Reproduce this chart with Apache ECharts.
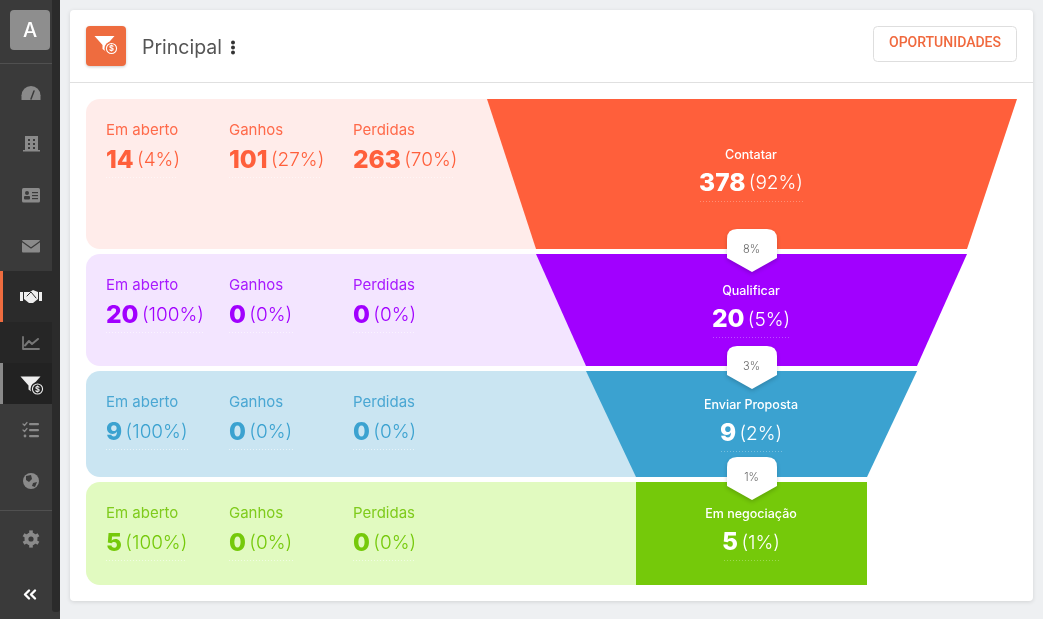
<!DOCTYPE html>
<html><head><meta charset="utf-8">
<style>html,body{margin:0;padding:0;background:#eef0f2;overflow:hidden}#c{width:1043px;height:619px}</style>
<script src="https://cdn.jsdelivr.net/npm/echarts@6/dist/echarts.min.js"></script>
</head><body><div id="c"></div>
<script>
// ---- data ----
const categories = ['Contatar', 'Qualificar', 'Enviar Proposta', 'Em negociação'];
const totals = [378, 20, 9, 5];
const totalPct = [92, 5, 2, 1];
const openCounts = [14, 20, 9, 5];
const openPct = [4, 100, 100, 100];
const wonCounts = [101, 0, 0, 0];
const wonPct = [27, 0, 0, 0];
const lostCounts = [263, 0, 0, 0];
const lostPct = [70, 0, 0, 0];
const conversionPct = [8, 3, 1];
const columnLabels = ['Em aberto', 'Ganhos', 'Perdidas'];

// ---- styles & layout ----
const FONT = 'Inter, "Noto Sans", sans-serif';
const fills = ['#ff5f3b', '#a100ff', '#3ba2d0', '#75c90a'];
const tints = ['#ffecea', '#f3e5ff', '#cae5f2', '#e1fac0'];
const labelCols = ['#ff6a4a', '#a81aff', '#4aa7d3', '#7fcb1c'];
const rows = [
  {top: 99,  bot: 249, l1: 487, r1: 1017, l2: 536, r2: 967, lab: 130, num: 160.5, clab: 155, cnum: 183.5, dotL: 700, dotR: 803, dotY: 201, sub: 177, subR: [178, 322, 455]},
  {top: 254, bot: 366, l1: 536, r1: 967,  l2: 586, r2: 917, lab: 285, num: 315.5, clab: 291, cnum: 320, dotL: 713, dotR: 790, dotY: 337, sub: 332, subR: [204, 293, 416]},
  {top: 371, bot: 477, l1: 586, r1: 917,  l2: 636, r2: 867, lab: 402, num: 432.5, clab: 405, cnum: 434, dotL: 721, dotR: 782, dotY: 451, sub: 449, subR: [189, 293, 416]},
  {top: 482, bot: 585, l1: 636, r1: 867,  l2: 636, r2: 867, lab: 513, num: 543.5, clab: 514, cnum: 543, dotL: 724, dotR: 779, dotY: 560, sub: 560, subR: [187, 293, 416]}
];
const colX = [106, 229, 353];
const badgeTops = [229, 346, 457];
const CX = 752;

function richText(c) {
  return {
    b: {fontFamily: FONT, fontWeight: 800, fontSize: 24.5, fill: c, color: c, lineHeight: 30},
    s: {fontFamily: FONT, fontWeight: 300, fontSize: 19, fill: c, color: c, lineHeight: 30}
  };
}

function renderStage(params, api) {
  const i = api.value(0);
  const R = rows[i];
  const P = (x, y) => api.coord([x, y]);
  const kids = [];
  // tinted panel
  const a = P(86, R.top), b = P(CX, R.bot);
  kids.push({type: 'rect', shape: {x: a[0], y: a[1], width: b[0] - a[0], height: b[1] - a[1], r: [14, 0, 0, 14]}, style: {fill: tints[i]}});
  // funnel trapezoid
  kids.push({type: 'polygon', shape: {points: [P(R.l1, R.top), P(R.r1, R.top), P(R.r2, R.bot), P(R.l2, R.bot)]}, style: {fill: fills[i]}});
  // columns
  const cnt = [openCounts[i], wonCounts[i], lostCounts[i]];
  const pct = [openPct[i], wonPct[i], lostPct[i]];
  columnLabels.forEach((t, k) => {
    const l = P(colX[k], R.lab), n = P(colX[k], R.num);
    kids.push({type: 'text', style: {text: t, x: l[0], y: l[1], verticalAlign: 'middle', align: 'left', font: '400 15px ' + FONT, fill: labelCols[i]}});
    kids.push({type: 'text', style: {text: '{b|' + cnt[k] + '} {s|(' + pct[k] + '%)}', x: n[0], y: n[1], verticalAlign: 'middle', align: 'left', rich: richText(fills[i])}});
    const u1 = P(colX[k], R.sub), u2 = P(R.subR[k], R.sub);
    kids.push({type: 'line', shape: {x1: u1[0], y1: u1[1] + 0.5, x2: u2[0], y2: u2[1] + 0.5}, style: {stroke: 'rgba(255,255,255,0.55)', lineWidth: 1, lineDash: [1, 2]}});
  });
  // centre labels
  const c1 = P(CX - 1, R.clab), c2 = P(CX - 1, R.cnum);
  kids.push({type: 'text', style: {text: categories[i], x: c1[0], y: c1[1], align: 'center', verticalAlign: 'middle', font: '500 12.5px ' + FONT, fill: '#fff'}});
  kids.push({type: 'text', style: {text: '{b|' + totals[i] + '} {s|(' + totalPct[i] + '%)}', x: c2[0], y: c2[1], align: 'center', verticalAlign: 'middle', rich: richText('#fff')}});
  const d1 = P(R.dotL, R.dotY), d2 = P(R.dotR, R.dotY);
  kids.push({type: 'line', shape: {x1: d1[0], y1: d1[1] + 0.5, x2: d2[0], y2: d2[1] + 0.5}, style: {stroke: 'rgba(255,255,255,0.3)', lineWidth: 1, lineDash: [1, 2]}});
  return {type: 'group', children: kids};
}

function renderBadge(params, api) {
  const i = api.value(0);
  const top = badgeTops[i];
  const P = (x, y) => api.coord([x, y]);
  const L = CX - 25, Rr = CX + 25, r = 10;
  const s = 29, t = 43;
  const p = (x, y) => { const q = P(x, y); return q[0] + ' ' + q[1]; };
  const d = 'M' + p(L, top + r) + ' Q' + p(L, top) + ' ' + p(L + r, top) + ' L' + p(Rr - r, top) + ' Q' + p(Rr, top) + ' ' + p(Rr, top + r) +
            ' L' + p(Rr, top + s) + ' L' + p(CX, top + t) + ' L' + p(L, top + s) + ' Z';
  const tp = P(CX - 0.5, top + 20.5);
  return {type: 'group', children: [
    {type: 'path', shape: {pathData: d}, style: {fill: '#fff', shadowBlur: 4, shadowOffsetY: 2, shadowColor: 'rgba(0,0,0,0.18)'}},
    {type: 'text', style: {text: conversionPct[i] + '%', x: tp[0], y: tp[1], align: 'center', verticalAlign: 'middle', font: '300 11px ' + FONT, fill: '#666'}}
  ]};
}

// ---- page chrome (static graphic elements) ----
const G = '#8a8a8a', SB = '#3a3a3a';
const rect = (x, y, w, h, fill, r) => ({type: 'rect', shape: {x, y, width: w, height: h, r: r || 0}, style: {fill}});
const circ = (cx, cy, r, fill) => ({type: 'circle', shape: {cx, cy, r}, style: {fill}});
const poly = (pts, fill) => ({type: 'polygon', shape: {points: pts}, style: {fill}});
const pl = (pts, stroke, w) => ({type: 'polyline', shape: {points: pts}, style: {stroke, lineWidth: w || 1, fill: 'none', lineCap: 'round', lineJoin: 'round'}});
const txt = (text, x, y, font, fill, align) => ({type: 'text', x, y, style: {text, font, fill, align: align || 'left', verticalAlign: 'middle'}});

function gear(cx, cy, col) {
  const out = [{type: 'ring', shape: {cx, cy, r: 6.5, r0: 2.6}, style: {fill: col}}];
  for (let k = 0; k < 6; k++) {
    out.push({type: 'rect', x: cx, y: cy, rotation: k * Math.PI / 3, shape: {x: -1.8, y: -8.6, width: 3.6, height: 3.6}, style: {fill: col}});
  }
  return out;
}
function funnelIcon(x, y, s, fill, coinFill) {
  return [
    poly([[x, y], [x + 20 * s, y], [x + 12 * s, y + 9 * s], [x + 12 * s, y + 16 * s], [x + 8 * s, y + 13 * s], [x + 8 * s, y + 9 * s]], fill),
    circ(x + 17 * s, y + 12.5 * s, 7 * s, coinFill),
    {type: 'ring', shape: {cx: x + 17 * s, cy: y + 12.5 * s, r: 5.6 * s, r0: 4.5 * s}, style: {fill: fill}},
    txt('$', x + 17 * s, y + 13 * s, '700 ' + (7.5 * s) + 'px ' + FONT, fill, 'center')
  ];
}

const chrome = [
  // sidebar
  rect(0, 0, 60, 619, SB),
  rect(52, 0, 8, 612, '#2b2b2b', [0, 0, 3, 3]),
  rect(0, 271, 52, 51, '#2b2b2b'), rect(0, 271, 3, 51, '#ee6c3f'),
  rect(0, 322, 52, 41, '#262626'),
  rect(0, 363, 52, 41, '#222222'), rect(0, 363, 3, 41, '#8a8a8a'),
  rect(0, 63, 52, 1, '#505050'), rect(0, 510, 52, 1, '#505050'),
  rect(10, 10, 40, 40, '#8e8e8e', 4),
  txt('A', 30, 31, '500 20px ' + FONT, '#fff', 'center'),
  // gauge
  {type: 'sector', shape: {cx: 31, cy: 95.5, r: 9.5, r0: 0, startAngle: Math.PI, endAngle: Math.PI * 2}, style: {fill: G}},
  rect(21.5, 95, 19, 5, G),
  pl([[31, 99], [34, 91]], SB, 1.5),
  // building
  rect(25, 136, 13, 15, G), rect(23, 150, 17, 1.5, G),
  rect(28, 139, 2, 2, SB), rect(33, 139, 2, 2, SB), rect(28, 143, 2, 2, SB), rect(33, 143, 2, 2, SB), rect(28, 147, 2, 2, SB), rect(33, 147, 2, 2, SB),
  // id card
  rect(22, 188, 18, 14.5, G, 1.5), circ(27, 193, 2, SB), rect(24, 196, 6, 3.5, SB, 1),
  rect(32, 192, 6, 1.2, SB), rect(32, 195, 6, 1.2, SB), rect(32, 198, 6, 1.2, SB),
  // envelope
  rect(22, 240, 18, 12.5, G, 1), pl([[22, 241.5], [31, 248], [40, 241.5]], SB, 1.2),
  // handshake
  rect(20, 292, 3, 9, '#eee'), rect(39, 292, 3, 9, '#eee'),
  poly([[24, 292], [30, 292], [33, 290], [38, 292], [38, 299], [33, 303], [29, 303], [24, 299]], '#eee'),
  pl([[27, 296], [31, 292], [36, 298]], '#2b2b2b', 1),
  // chart
  pl([[23, 337], [23, 349], [39, 349]], '#777', 1.8),
  pl([[25, 345.5], [29, 341], [32, 344], [38, 339]], '#777', 2),
  // funnel (active)
  ...funnelIcon(20.5, 376.5, 1, '#eee', '#222'),
  // checklist
  rect(29, 423, 10, 2.2, G, 1), rect(29, 429, 10, 2.2, G, 1), rect(29, 435, 10, 2.2, G, 1),
  pl([[23, 424], [24.5, 425.5], [27, 422.5]], G, 1.2), pl([[23, 430], [24.5, 431.5], [27, 428.5]], G, 1.2), circ(25, 436, 1.4, G),
  // globe
  circ(31, 481, 8, G),
  poly([[26, 476], [31, 475], [32, 479], [29, 482], [26, 480]], SB),
  poly([[33, 483], [37, 482], [35, 487], [32, 486]], SB),
  // gear
  ...gear(31, 539, G),
  // chevrons
  pl([[29, 590.5], [25, 594.5], [29, 598.5]], '#fff', 2.4), pl([[35, 590.5], [31, 594.5], [35, 598.5]], '#fff', 2.4),
  // card
  {type: 'rect', shape: {x: 70, y: 10, width: 963, height: 591, r: 4}, style: {fill: '#fff', shadowBlur: 4, shadowOffsetY: 1, shadowColor: 'rgba(0,0,0,0.12)'}},
  rect(70, 82, 963, 1, '#e0e0e0'),
  {type: 'rect', shape: {x: 86, y: 26, width: 40, height: 40, r: 4}, style: {fill: '#ee6c3f', shadowBlur: 3, shadowOffsetY: 1, shadowColor: 'rgba(0,0,0,0.2)'}},
  ...funnelIcon(94.5, 36, 1, '#fff', '#ee6c3f'),
  txt('Principal', 142, 48, '400 19.5px ' + FONT, '#555', 'left'),
  circ(233, 42.5, 2, '#333'), circ(233, 47.5, 2, '#333'), circ(233, 52.5, 2, '#333'),
  {type: 'rect', shape: {x: 873.5, y: 26.5, width: 143, height: 35, r: 4}, style: {fill: '#fff', stroke: '#dedede', lineWidth: 1}},
  txt('OPORTUNIDADES', 945, 43.5, '500 14px Roboto', '#f0693e', 'center')
];

const chart = echarts.init(document.getElementById('c'), null, {renderer: 'canvas', width: 1043, height: 619});
const indexData = categories.map((c, i) => [i]);
chart.setOption({
  animation: false,
  backgroundColor: '#eef0f2',
  grid: {left: 0, right: 0, top: 0, bottom: 0},
  xAxis: {type: 'value', min: 0, max: 1043, show: false},
  yAxis: {type: 'value', min: 0, max: 619, inverse: true, show: false},
  graphic: {elements: chrome.map(e => Object.assign({silent: true, z: 0}, e))},
  series: [
    {type: 'custom', coordinateSystem: 'cartesian2d', renderItem: renderStage, data: indexData, encode: {x: 0, y: 0}, z: 2, silent: true},
    {type: 'custom', coordinateSystem: 'cartesian2d', renderItem: renderBadge, data: conversionPct.map((c, i) => [i]), encode: {x: 0, y: 0}, z: 3, silent: true}
  ]
});
</script></body></html>
